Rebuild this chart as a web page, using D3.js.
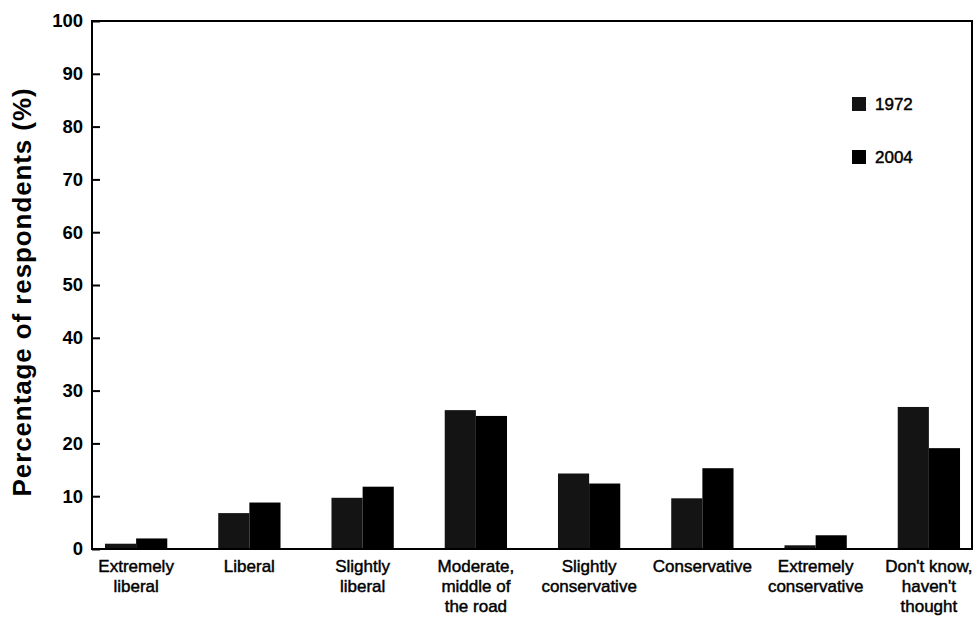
<!DOCTYPE html>
<html>
<head>
    <title>Political views 1972 vs 2004</title>
    <script src="https://d3js.org/d3.v7.min.js"></script>
    <style>
        body { margin: 0; background: #fff; }
        svg text { font-family: "Liberation Sans", Arial, sans-serif; fill: #000; }
        .lbl { stroke: #000; stroke-width: 0.45px; }
    </style>
</head>
<body>
<svg id="chart" width="976" height="626"></svg>
<script>
    // categories (x labels, split into lines)
    const categories = [
        ["Extremely", "liberal"],
        ["Liberal"],
        ["Slightly", "liberal"],
        ["Moderate,", "middle of", "the road"],
        ["Slightly", "conservative"],
        ["Conservative"],
        ["Extremely", "conservative"],
        ["Don't know,", "haven't", "thought"]
    ];
    const years = ["1972", "2004"];
    const values1972 = [1.0, 6.8, 9.7, 26.3, 14.3, 9.6, 0.7, 26.9];
    const values2004 = [2.0, 8.8, 11.8, 25.2, 12.4, 15.3, 2.6, 19.1];
    const yTicks = [0, 10, 20, 30, 40, 50, 60, 70, 80, 90, 100];

    const svg = d3.select("#chart");
    const plotLeft = 92, plotRight = 972, plotTop = 21, plotBottom = 549;

    const x = d3.scaleBand()
        .domain(d3.range(categories.length))
        .range([79.5, 985.5])
        .paddingInner(0.45)
        .paddingOuter(0.225);

    const sub = d3.scaleBand()
        .domain(years)
        .range([0, x.bandwidth()]);

    const y = d3.scaleLinear().domain([0, 100]).range([plotBottom, plotTop]);

    const colors = { "1972": "#141414", "2004": "#000" };

    // bars
    const series = [values1972, values2004];
    const g = svg.append("g");
    years.forEach(function (yr, k) {
        g.selectAll(".bar" + yr)
            .data(series[k])
            .enter()
            .append("rect")
            .attr("x", function (d, i) { return x(i) + sub(yr); })
            .attr("y", function (d) { return y(d); })
            .attr("width", sub.bandwidth())
            .attr("height", function (d) { return plotBottom - y(d); })
            .attr("fill", colors[yr]);
    });

    // frame
    svg.append("rect")
        .attr("x", plotLeft).attr("y", plotTop)
        .attr("width", plotRight - plotLeft).attr("height", plotBottom - plotTop)
        .attr("fill", "none").attr("stroke", "#000").attr("stroke-width", 2);

    // y axis
    const yAxis = svg.append("g")
        .attr("transform", "translate(" + plotLeft + ",0)")
        .call(d3.axisLeft(y).tickValues(yTicks).tickSizeInner(-8).tickSizeOuter(0).tickPadding(9));
    yAxis.select(".domain").remove();
    yAxis.selectAll("line").attr("stroke", "#000").attr("stroke-width", 2);
    yAxis.selectAll("text")
        .style("font-size", "18.5px").style("font-weight", "bold")
        .attr("font-family", null);

    // x labels
    const xl = svg.append("g");
    categories.forEach(function (lines, i) {
        const t = xl.append("text")
            .attr("class", "lbl")
            .attr("x", x(i) + x.bandwidth() / 2)
            .attr("y", 572)
            .attr("text-anchor", "middle")
            .style("font-size", "17px");
        lines.forEach(function (ln, j) {
            t.append("tspan")
                .attr("x", x(i) + x.bandwidth() / 2)
                .attr("dy", j === 0 ? 0 : 20)
                .text(ln);
        });
    });

    // y title
    svg.append("text")
        .attr("transform", "translate(31," + 292 + ") rotate(-90)")
        .attr("text-anchor", "middle")
        .style("font-size", "26px")
        .style("font-weight", "bold")
        .style("letter-spacing", "0.9px")
        .text("Percentage of respondents (%)");

    // legend
    const legend = svg.append("g");
    years.forEach(function (yr, k) {
        const ly = 104 + k * 53;
        legend.append("rect")
            .attr("x", 852).attr("y", ly - 7)
            .attr("width", 14).attr("height", 14)
            .attr("fill", colors[yr]);
        legend.append("text")
            .attr("class", "lbl")
            .attr("x", 875).attr("y", ly + 6)
            .style("font-size", "17px")
            .text(yr);
    });
</script>
</body>
</html>
